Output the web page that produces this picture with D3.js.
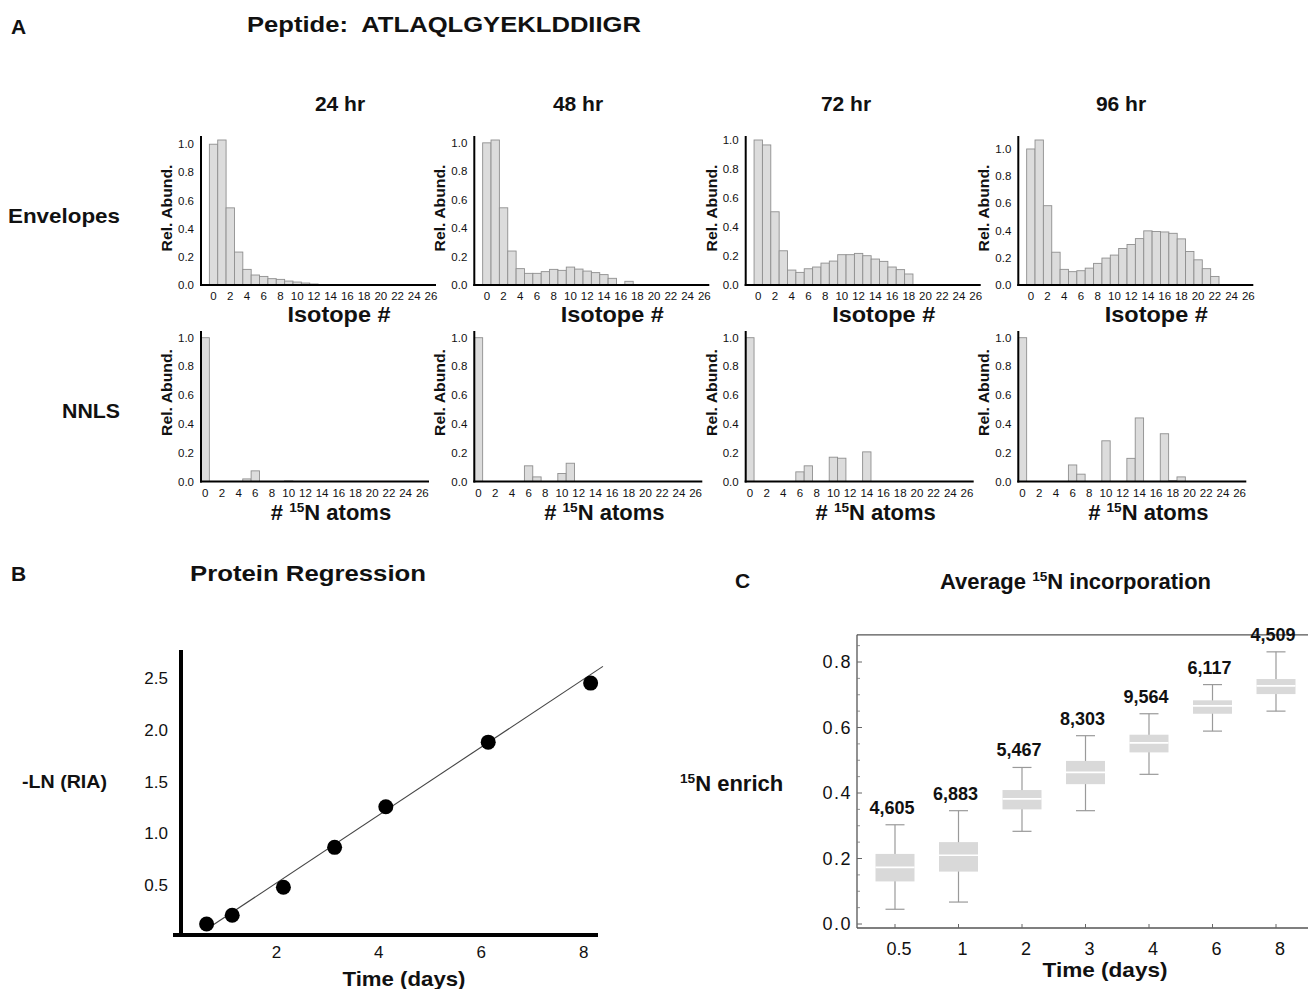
<!DOCTYPE html>
<html>
<head>
<meta charset="utf-8">
<script src="https://cdn.jsdelivr.net/npm/d3@7"></script>
<style>
  html, body { margin: 0; padding: 0; background: #fff; }
  svg { display: block; }
  text { font-family: "Liberation Sans", Arial, Helvetica, sans-serif; fill: #111; white-space: pre; }
  .b { font-weight: bold; }
</style>
</head>
<body>
<svg id="fig" width="1308" height="989"></svg>
<script>
// ---------------- DATA ----------------
const timepoints = ["24 hr", "48 hr", "72 hr", "96 hr"];
// isotope envelope relative abundances (isotope 0..26)
const env24 = [1.0, 1.03, 0.548, 0.234, 0.111, 0.071, 0.061, 0.045, 0.04, 0.028, 0.021, 0.014, 0.007, 0, 0, 0, 0, 0, 0, 0, 0, 0, 0, 0, 0, 0, 0];
const env48 = [1.0, 1.02, 0.543, 0.239, 0.115, 0.082, 0.082, 0.094, 0.11, 0.103, 0.126, 0.112, 0.098, 0.087, 0.073, 0.047, 0, 0.026, 0, 0, 0, 0, 0, 0, 0, 0, 0];
const env72 = [1.0, 0.966, 0.505, 0.236, 0.103, 0.087, 0.112, 0.124, 0.151, 0.165, 0.209, 0.209, 0.218, 0.202, 0.179, 0.163, 0.124, 0.106, 0.076, 0, 0, 0, 0, 0, 0, 0, 0];
const env96 = [1.0, 1.066, 0.583, 0.241, 0.115, 0.098, 0.105, 0.124, 0.159, 0.198, 0.22, 0.268, 0.298, 0.341, 0.398, 0.393, 0.39, 0.38, 0.339, 0.246, 0.185, 0.12, 0.063, 0, 0, 0, 0];
// NNLS solutions (# 15N atoms 0..26)
const nnls24 = [1.0, 0, 0, 0, 0, 0.018, 0.074, 0, 0, 0, 0.004, 0, 0, 0, 0, 0, 0, 0, 0, 0, 0, 0, 0, 0, 0, 0, 0];
const nnls48 = [1.0, 0, 0, 0, 0, 0, 0.109, 0.032, 0, 0, 0.056, 0.127, 0, 0, 0, 0, 0, 0, 0, 0, 0, 0, 0, 0, 0, 0, 0];
const nnls72 = [1.0, 0, 0, 0, 0, 0, 0.067, 0.109, 0, 0, 0.169, 0.162, 0, 0, 0.206, 0, 0, 0, 0, 0, 0, 0, 0, 0, 0, 0, 0];
const nnls96 = [1.0, 0, 0, 0, 0, 0, 0.115, 0.051, 0, 0, 0.283, 0, 0, 0.161, 0.442, 0, 0, 0.332, 0.007, 0.032, 0, 0, 0, 0, 0, 0, 0];
const isoTicks = [0, 2, 4, 6, 8, 10, 12, 14, 16, 18, 20, 22, 24, 26];
const abundTicks = [0, 0.2, 0.4, 0.6, 0.8, 1.0];

// Panel B: protein regression
const regDays = [0.5, 1, 2, 3, 4, 6, 8];
const regLnRIA = [0.125, 0.21, 0.48, 0.865, 1.257, 1.88, 2.45];
const fitSlope = 0.3277, fitIntercept = -0.089, fitFrom = 0.625, fitTo = 8.24;
const regXTicks = [2, 4, 6, 8];
const regYTicks = [0.5, 1.0, 1.5, 2.0, 2.5];

// Panel C: average 15N incorporation box plots
const cDays = ["0.5", "1", "2", "3", "4", "6", "8"];
const cCounts = ["4,605", "6,883", "5,467", "8,303", "9,564", "6,117", "4,509"];
const cWhiskLo = [0.045, 0.067, 0.283, 0.346, 0.457, 0.589, 0.650];
const cQ1 = [0.130, 0.160, 0.350, 0.427, 0.524, 0.642, 0.702];
const cMedian = [0.173, 0.210, 0.382, 0.463, 0.553, 0.666, 0.727];
const cQ3 = [0.214, 0.250, 0.409, 0.498, 0.578, 0.683, 0.748];
const cWhiskHi = [0.303, 0.346, 0.478, 0.575, 0.642, 0.731, 0.831];
const cYTicks = [0, 0.2, 0.4, 0.6, 0.8];

// ---------------- DRAW ----------------
const svg = d3.select("#fig");
svg.append("rect").attr("width", 1308).attr("height", 989).attr("fill", "#fff");

function txt(g, x, y, s, size, opts = {}) {
  const t = g.append("text").attr("x", x).attr("y", y).text(s)
    .style("font-size", size + "px");
  if (opts.bold !== false) t.attr("class", "b");
  if (opts.anchor) t.attr("text-anchor", opts.anchor);
  if (opts.len) t.attr("textLength", opts.len).attr("lengthAdjust", "spacingAndGlyphs");
  return t;
}
function supText(g, x, y, pre, sup, post, size, anchor) {
  const t = g.append("text").attr("x", x).attr("y", y).attr("class", "b")
    .style("font-size", size + "px").attr("text-anchor", anchor || "start");
  if (pre) t.append("tspan").text(pre);
  t.append("tspan").text(sup).style("font-size", (size * 0.62) + "px").attr("dy", -size * 0.38);
  t.append("tspan").text(post).attr("dy", size * 0.38);
  return t;
}

// Panel labels / titles
txt(svg, 11, 34, "A", 21);
txt(svg, 247, 32, "Peptide:  ATLAQLGYEKLDDIIGR", 21.5, { len: 394 });
txt(svg, 8, 223, "Envelopes", 21, { len: 112 });
txt(svg, 62, 418, "NNLS", 21, { len: 58 });

const axisXs = [201, 474.3, 745.7, 1018.3];
const headerXs = [340, 578, 846, 1121];
const envSets = [env24, env48, env72, env96];
const nnlsSets = [nnls24, nnls48, nnls72, nnls96];

timepoints.forEach((tp, k) => {
  txt(svg, headerXs[k], 111, tp, 21, { anchor: "middle" });
});

function miniChart(k, values, opts) {
  const ax = axisXs[k];
  const g = svg.append("g");
  const x = d3.scaleLinear().domain(opts.xDomain).range([ax, ax + opts.width]);
  const y = d3.scaleLinear().domain([0, d3.max(values)]).range([opts.base, opts.top]);
  const data = values.map((v, i) => ({ i, v })).filter(d => d.v > 0);
  g.selectAll("rect.bar").data(data).join("rect")
    .attr("x", d => x(d.i - 0.5))
    .attr("width", d => x(d.i + 0.5) - x(d.i - 0.5))
    .attr("y", d => y(d.v))
    .attr("height", d => opts.base - y(d.v))
    .attr("fill", "#dcdcdc")
    .attr("stroke", "#8f8f8f")
    .attr("stroke-width", 0.9);
  // axes
  g.append("line").attr("x1", ax).attr("x2", ax).attr("y1", opts.axisTop).attr("y2", opts.base + 1)
    .attr("stroke", "#000").attr("stroke-width", 2);
  g.append("line").attr("x1", ax - 1).attr("x2", ax + opts.width).attr("y1", opts.base).attr("y2", opts.base)
    .attr("stroke", "#000").attr("stroke-width", 2);
  // tick labels
  g.selectAll("text.yt").data(abundTicks).join("text")
    .attr("x", ax - 7).attr("y", d => y(d) + 4)
    .attr("text-anchor", "end").style("font-size", "11.5px")
    .text(d3.format(".1f"));
  g.selectAll("text.xt").data(isoTicks).join("text")
    .attr("x", d => x(d)).attr("y", opts.base + 15)
    .attr("text-anchor", "middle").style("font-size", "11.5px")
    .text(d => d);
  // y label
  g.append("text").attr("class", "b")
    .attr("transform", `translate(${ax - 29},${opts.base - opts.yLabOff}) rotate(-90)`)
    .attr("text-anchor", "middle").style("font-size", "15px")
    .attr("textLength", 87).attr("lengthAdjust", "spacingAndGlyphs")
    .text("Rel. Abund.");
  return g;
}

envSets.forEach((vals, k) => {
  const g = miniChart(k, vals, { xDomain: [-1.5, 26.6], width: 235, base: 285, top: 140, axisTop: 136, yLabOff: 77 });
  txt(g, axisXs[k] + 138, 322, "Isotope #", 22, { anchor: "middle", len: 103 });
});
nnlsSets.forEach((vals, k) => {
  const g = miniChart(k, vals, { xDomain: [-0.5, 26.8], width: 228, base: 481.5, top: 337.7, axisTop: 331, yLabOff: 89 });
  supText(g, axisXs[k] + 130, 520, "# ", "15", "N atoms", 22, "middle");
});

// ---------------- Panel B ----------------
txt(svg, 11, 581, "B", 21);
txt(svg, 190, 581, "Protein Regression", 22, { len: 236 });
txt(svg, 22, 788, "-LN (RIA)", 19, { len: 85 });

const gB = svg.append("g");
const xB = d3.scaleLinear().domain([0, 8.3]).range([181, 606]);
const yB = d3.scaleLinear().domain([0, 2.75]).range([937, 652]);
gB.append("line").attr("x1", xB(0)).attr("x2", xB(0)).attr("y1", 650).attr("y2", 937)
  .attr("stroke", "#000").attr("stroke-width", 4);
gB.append("line").attr("x1", 173).attr("x2", 598).attr("y1", 935).attr("y2", 935)
  .attr("stroke", "#000").attr("stroke-width", 4);
gB.selectAll("text.yt").data(regYTicks).join("text")
  .attr("x", 168).attr("y", d => yB(d) + 6).attr("text-anchor", "end")
  .style("font-size", "17px").text(d3.format(".1f"));
gB.selectAll("text.xt").data(regXTicks).join("text")
  .attr("x", d => xB(d) - 7).attr("y", 958).attr("text-anchor", "middle")
  .style("font-size", "17px").text(d => d);
gB.append("line")
  .attr("x1", xB(fitFrom)).attr("y1", yB(fitIntercept + fitSlope * fitFrom))
  .attr("x2", xB(fitTo)).attr("y2", yB(fitIntercept + fitSlope * fitTo))
  .attr("stroke", "#444").attr("stroke-width", 1.1);
gB.selectAll("circle").data(regDays).join("circle")
  .attr("cx", d => xB(d)).attr("cy", (d, i) => yB(regLnRIA[i])).attr("r", 7.5)
  .attr("fill", "#000");
txt(gB, 404, 986, "Time (days)", 21, { anchor: "middle", len: 123 });

// ---------------- Panel C ----------------
txt(svg, 735, 588, "C", 21);
supText(svg, 940, 589, "Average ", "15", "N incorporation", 22, "start");
supText(svg, 680, 791, "", "15", "N enrich", 22, "start");

const gC = svg.append("g");
const xC = d3.scalePoint().domain(cDays).range([895, 1276]);
const yC = d3.scaleLinear().domain([0, 0.8]).range([924, 662]);
const frameTop = yC(0.883), frameBot = 928, frameL = 857;
const frameCol = "#555";
gC.append("line").attr("x1", frameL).attr("x2", 1308).attr("y1", frameTop).attr("y2", frameTop)
  .attr("stroke", frameCol).attr("stroke-width", 1.3);
gC.append("line").attr("x1", frameL).attr("x2", 1308).attr("y1", frameBot).attr("y2", frameBot)
  .attr("stroke", frameCol).attr("stroke-width", 1.3);
gC.append("line").attr("x1", frameL).attr("x2", frameL).attr("y1", frameTop).attr("y2", frameBot)
  .attr("stroke", frameCol).attr("stroke-width", 1.3);
const minorC = d3.range(0, 0.851, 0.05).filter(v => Math.abs(Math.round(v * 5) - v * 5) > 1e-6);
gC.selectAll("line.mi").data(minorC).join("line")
  .attr("x1", frameL).attr("x2", frameL + 3).attr("y1", d => yC(d)).attr("y2", d => yC(d))
  .attr("stroke", "#777").attr("stroke-width", 0.8);
gC.selectAll("line.ma").data(cYTicks).join("line")
  .attr("x1", frameL).attr("x2", frameL + 5).attr("y1", d => yC(d)).attr("y2", d => yC(d))
  .attr("stroke", "#666").attr("stroke-width", 1);
gC.selectAll("text.yt").data(cYTicks).join("text")
  .attr("x", 852).attr("y", d => yC(d) + 6).attr("text-anchor", "end")
  .style("font-size", "18px").style("letter-spacing", "1.5px").text(d3.format(".1f"));
gC.selectAll("line.xt").data(cDays).join("line")
  .attr("x1", d => xC(d)).attr("x2", d => xC(d)).attr("y1", frameBot).attr("y2", frameBot - 4)
  .attr("stroke", "#666").attr("stroke-width", 1);
gC.selectAll("text.xt").data(cDays).join("text")
  .attr("x", d => xC(d) + 4).attr("y", 955).attr("text-anchor", "middle")
  .style("font-size", "18px").text(d => d);

const boxW = 39, capW = 19;
cDays.forEach((d, i) => {
  const cx = xC(d);
  const whiskCol = "#9a9a9a";
  gC.append("line").attr("x1", cx).attr("x2", cx).attr("y1", yC(cWhiskHi[i])).attr("y2", yC(cWhiskLo[i]))
    .attr("stroke", whiskCol).attr("stroke-width", 1.2);
  [cWhiskHi[i], cWhiskLo[i]].forEach(v => {
    gC.append("line").attr("x1", cx - capW / 2).attr("x2", cx + capW / 2).attr("y1", yC(v)).attr("y2", yC(v))
      .attr("stroke", whiskCol).attr("stroke-width", 1.2);
  });
  gC.append("rect").attr("x", cx - boxW / 2).attr("width", boxW)
    .attr("y", yC(cQ3[i])).attr("height", yC(cQ1[i]) - yC(cQ3[i]))
    .attr("fill", "#d9d9d9");
  gC.append("line").attr("x1", cx - boxW / 2).attr("x2", cx + boxW / 2)
    .attr("y1", yC(cMedian[i])).attr("y2", yC(cMedian[i]))
    .attr("stroke", "#fff").attr("stroke-width", 1.6);
  txt(gC, cx - 3, yC(cWhiskHi[i]) - 11, cCounts[i], 18, { anchor: "middle" });
});
txt(gC, 1105, 977, "Time (days)", 21, { anchor: "middle", len: 125 });
</script>
</body>
</html>
